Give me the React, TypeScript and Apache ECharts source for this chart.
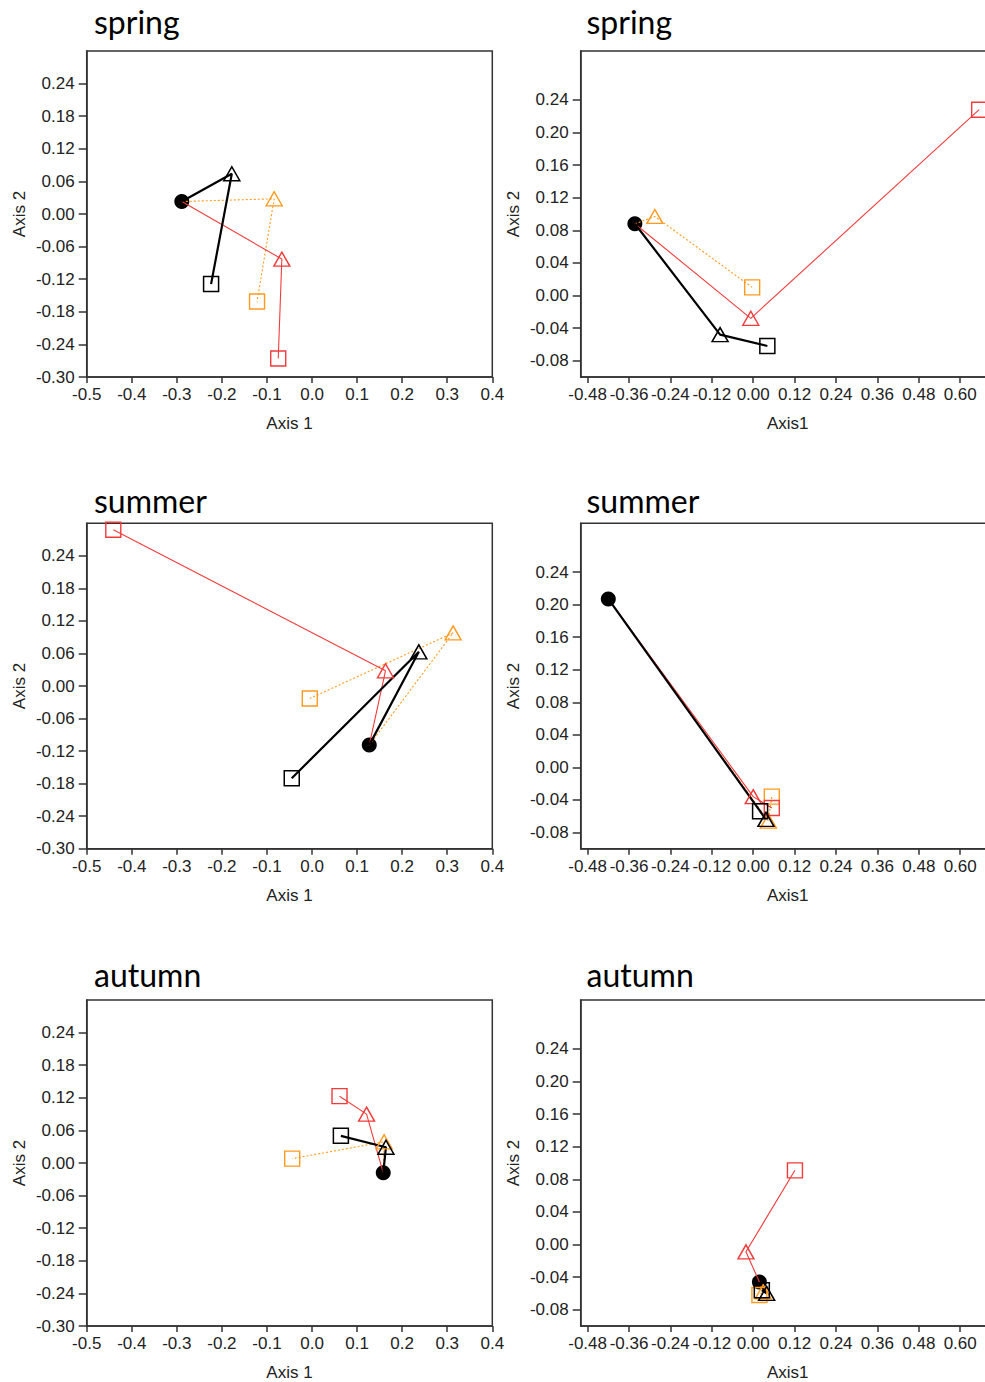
import React, { useEffect, useRef } from "react";
import * as echarts from "echarts";

// Tick values
const leftXTicks = [-0.5, -0.4, -0.3, -0.2, -0.1, 0.0, 0.1, 0.2, 0.3, 0.4];
const leftYTicks = [-0.3, -0.24, -0.18, -0.12, -0.06, 0.0, 0.06, 0.12, 0.18, 0.24];
const rightXTicks = [-0.48, -0.36, -0.24, -0.12, 0.0, 0.12, 0.24, 0.36, 0.48, 0.6];
const rightYTicks = [-0.08, -0.04, 0.0, 0.04, 0.08, 0.12, 0.16, 0.2, 0.24];

const seasons = ["spring", "summer", "autumn"];

// Start point (filled circle) per panel
// triangles / squares: [black, orange, red]
const springLeftStart = [-0.289, 0.023];
const springLeftTriangles = [[-0.178, 0.074], [-0.084, 0.028], [-0.067, -0.083]];
const springLeftSquares = [[-0.224, -0.129], [-0.122, -0.161], [-0.075, -0.266]];

const springRightStart = [-0.343, 0.088];
const springRightTriangles = [[-0.096, -0.048], [-0.285, 0.097], [-0.007, -0.028]];
const springRightSquares = [[0.041, -0.062], [-0.003, 0.01], [0.655, 0.228]];

const summerLeftStart = [0.127, -0.109];
const summerLeftTriangles = [[0.237, 0.063], [0.313, 0.098], [0.163, 0.028]];
const summerLeftSquares = [[-0.045, -0.17], [-0.005, -0.023], [-0.441, 0.288]];

const summerRightStart = [-0.42, 0.207];
const summerRightTriangles = [[0.037, -0.064], [0.044, -0.066], [0.0, -0.036]];
const summerRightSquares = [[0.02, -0.054], [0.054, -0.036], [0.054, -0.05]];

const autumnLeftStart = [0.158, -0.018];
const autumnLeftTriangles = [[0.164, 0.029], [0.16, 0.039], [0.121, 0.09]];
const autumnLeftSquares = [[0.064, 0.05], [-0.044, 0.008], [0.061, 0.123]];

const autumnRightStart = [0.018, -0.046];
const autumnRightTriangles = [[0.039, -0.06], [0.029, -0.058], [-0.021, -0.009]];
const autumnRightSquares = [[0.025, -0.056], [0.018, -0.062], [0.121, 0.091]];

const BLACK = "#000000";
const ORANGE = "#ff9a1f";
const RED = "#f23b3b";

const panels = [
  { title: seasons[0], side: "L", row: 0, start: springLeftStart, tri: springLeftTriangles, sq: springLeftSquares },
  { title: seasons[0], side: "R", row: 0, start: springRightStart, tri: springRightTriangles, sq: springRightSquares },
  { title: seasons[1], side: "L", row: 1, start: summerLeftStart, tri: summerLeftTriangles, sq: summerLeftSquares },
  { title: seasons[1], side: "R", row: 1, start: summerRightStart, tri: summerRightTriangles, sq: summerRightSquares },
  { title: seasons[2], side: "L", row: 2, start: autumnLeftStart, tri: autumnLeftTriangles, sq: autumnLeftSquares },
  { title: seasons[2], side: "R", row: 2, start: autumnRightStart, tri: autumnRightTriangles, sq: autumnRightSquares },
];

const rowTop = [51, 523.3, 1000];
const rowH = [326, 325.4, 326];
const titleY = [21, 500, 974];

const TICK_FONT = "Liberation Sans";

function buildOption() {
  const grid: any[] = [];
  const xAxis: any[] = [];
  const yAxis: any[] = [];
  const series: any[] = [];
  const graphic: any[] = [];

  panels.forEach((p, i) => {
    const isL = p.side === "L";
    grid.push({
      left: isL ? 86.7 : 580.7,
      top: rowTop[p.row],
      width: isL ? 405.6 : 414,
      height: rowH[p.row],
      show: true,
      borderColor: "#333",
      borderWidth: 1.5,
      backgroundColor: "transparent",
      containLabel: false,
    });
    const xt = isL ? leftXTicks : rightXTicks;
    const yt = isL ? leftYTicks : rightYTicks;
    const xd = isL ? 1 : 2;
    xAxis.push({
      type: "value",
      gridIndex: i,
      min: -0.5,
      max: isL ? 0.4 : 0.7,
      name: isL ? "Axis 1" : "Axis1",
      nameLocation: "middle",
      nameGap: 38,
      nameTextStyle: { fontSize: 17, fontFamily: TICK_FONT, color: "#222" },
      axisLine: { show: true, onZero: false, lineStyle: { color: "#333", width: 1.5 } },
      axisTick: { show: true, length: 6, customValues: xt, lineStyle: { color: "#333", width: 1.5 } },
      axisLabel: {
        customValues: xt,
        margin: 9,
        fontSize: 17,
        fontFamily: TICK_FONT,
        color: "#222",
        formatter: (v: number) => v.toFixed(xd),
      },
      splitLine: { show: false },
    });
    yAxis.push({
      type: "value",
      gridIndex: i,
      min: isL ? -0.3 : -0.1,
      max: 0.3,
      name: "Axis 2",
      nameLocation: "middle",
      nameGap: 59,
      nameTextStyle: { fontSize: 17, fontFamily: TICK_FONT, color: "#222" },
      axisLine: { show: true, onZero: false, lineStyle: { color: "#333", width: 1.5 } },
      axisTick: { show: true, length: 8, customValues: yt, lineStyle: { color: "#333", width: 1.5 } },
      axisLabel: {
        customValues: yt,
        margin: 12,
        fontSize: 17,
        fontFamily: TICK_FONT,
        color: "#222",
        formatter: (v: number) => v.toFixed(2),
      },
      splitLine: { show: false },
    });

    series.push({
      type: "scatter",
      xAxisIndex: i,
      yAxisIndex: i,
      symbol: "circle",
      symbolSize: 15,
      itemStyle: { color: BLACK, opacity: 1 },
      data: [p.start],
      z: 2,
    });

    const colors = [BLACK, ORANGE, RED];
    const order = [1, 2, 0]; // draw orange, red, then black on top
    order.forEach((k) => {
      const c = colors[k];
      series.push({
        type: "line",
        xAxisIndex: i,
        yAxisIndex: i,
        showSymbol: true,
        data: [
          { value: p.start, symbol: "none" },
          { value: p.tri[k], symbol: "triangle", symbolSize: [16, 14] },
          { value: p.sq[k], symbol: "rect", symbolSize: 15 },
        ],
        lineStyle: {
          color: c,
          width: k === 0 ? 2.2 : 1.1,
          type: k === 1 ? [2, 2] : "solid",
        },
        itemStyle: { color: "rgba(0,0,0,0)", borderColor: c, borderWidth: k === 0 ? 1.5 : 1.4 },
        z: 3,
      });
    });

    graphic.push({
      type: "text",
      x: isL ? 94 : 586.5,
      y: titleY[p.row],
      style: {
        text: p.title,
        font: "32px Lato",
        fill: "#000",
        verticalAlign: "middle",
        align: "left",
      },
    });
  });

  return {
    animation: false,
    backgroundColor: "#ffffff",
    grid,
    xAxis,
    yAxis,
    series,
    graphic,
  };
}

export default function App() {
  const ref = useRef<HTMLDivElement>(null);
  useEffect(() => {
    if (!ref.current) return;
    const chart = echarts.init(ref.current, undefined, { renderer: "svg" });
    chart.setOption(buildOption());
    return () => chart.dispose();
  }, []);
  return (
    <div
      style={{ position: "absolute", left: 0, top: 0, width: 985, height: 1382, overflow: "hidden", background: "#fff" }}
    >
      <div ref={ref} style={{ width: 1010, height: 1382 }} />
    </div>
  );
}
